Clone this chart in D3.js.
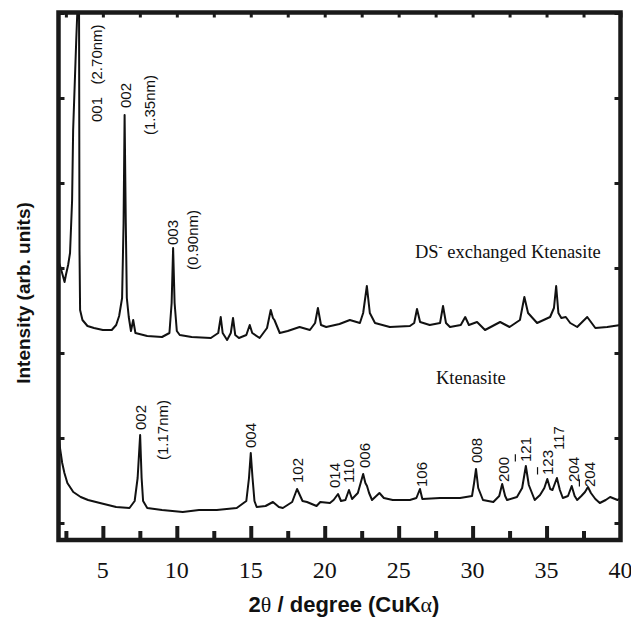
<!DOCTYPE html>
<html lang="en">
<head>
<meta charset="UTF-8">
<title>XRD patterns of Ktenasite</title>
<style>
  body { margin: 0; background: #fff; }
  svg { display: block; }
  .peak { font-family: "Liberation Sans", Arial, sans-serif; font-size: 15px; fill: #111; white-space: pre; }
  .note { font-family: "Liberation Serif", "Times New Roman", serif; font-size: 18.5px; fill: #111; }
  .tick-label { font-family: "Liberation Serif", "Times New Roman", serif; font-size: 24px; fill: #111; }
  .title { font-family: "Liberation Sans", Arial, sans-serif; font-weight: bold; fill: #111; }
</style>
</head>
<body>
<svg id="chart" width="631" height="623"></svg>
<script src="https://d3js.org/d3.v7.min.js"></script>
<script>
// 2theta (deg) and intensity (arbitrary units)
const upperTrace = [
  [2.0,262],[2.15,255],[2.3,247],[2.41,241],[2.5,248],[2.65,258],[2.78,270],[2.92,323],[2.99,393],
  [3.2,483],[3.27,510],[3.33,800],[3.39,510],[3.42,273],[3.46,213],[3.62,203],[3.96,197],[4.4,195],
  [5.0,193],[5.6,193],[5.9,198],[6.1,207],[6.3,225],[6.4,300],[6.47,408],[6.55,300],[6.62,225],
  [6.75,206],[6.9,192],[7.05,203],[7.2,190],[8.0,187],[9.0,186],[9.5,190],[9.65,220],[9.75,275],
  [9.85,220],[10.0,192],[10.2,188],[11.0,186],[12.3,185],[12.8,190],[12.97,206],[13.1,190],[13.4,183],
  [13.65,190],[13.8,205],[13.95,188],[14.2,185],[14.7,188],[14.93,198],[15.1,190],[15.6,185],[16.1,195],
  [16.35,213],[16.5,205],[16.6,203],[16.96,190],[17.5,192],[18.3,196],[19.0,193],[19.35,200],[19.54,215],
  [19.75,198],[20.1,196],[21.0,199],[21.7,203],[22.38,200],[22.6,210],[22.85,237],[23.05,210],[23.4,200],
  [24.4,196],[25.76,197],[26.05,200],[26.24,214],[26.45,201],[27.1,198],[27.8,200],[28.0,217],[28.2,200],
  [28.47,196],[29.2,198],[29.5,206],[29.75,198],[30.3,201],[30.84,193],[31.86,201],[32.5,196],[33.2,203],
  [33.5,226],[33.75,210],[34.36,200],[35.24,206],[35.5,215],[35.65,237],[35.8,210],[36.0,205],[36.3,206],
  [36.6,200],[37.07,196],[37.75,206],[38.3,195],[39.1,196],[40.0,198]
];
const lowerTrace = [
  [2.0,95],[2.1,75],[2.25,60],[2.4,50],[2.6,40],[3.0,31],[3.5,26],[4.0,23],[4.8,20],[5.9,16],[6.8,15],
  [7.15,22],[7.35,45],[7.52,88],[7.62,45],[7.72,22],[8.0,15],[9.0,13],[10.4,11],[11.5,13],[12.7,13],
  [14.05,15],[14.7,22],[14.88,45],[15.0,70],[15.12,45],[15.25,22],[15.4,16],[16.0,17],[16.5,21],[16.9,16],
  [17.17,15],[17.8,21],[18.13,34],[18.5,22],[18.8,21],[19.45,17],[19.7,21],[20.35,20],[20.6,23],[20.9,29],
  [21.1,22],[21.4,23],[21.64,33],[21.85,24],[22.24,30],[22.6,49],[22.75,40],[22.86,37],[23.0,30],[23.2,23],
  [23.7,30],[24.0,25],[24.6,23],[25.76,23],[26.2,25],[26.44,34],[26.6,24],[27.8,25],[29.15,25],[29.96,27],
  [30.1,40],[30.23,54],[30.38,35],[30.7,23],[31.4,21],[31.8,27],[32.0,39],[32.2,27],[32.33,23],[33.0,26],
  [33.35,35],[33.6,57],[33.8,38],[34.2,23],[34.56,28],[34.85,35],[35.05,44],[35.25,34],[35.4,33],[35.7,45],
  [35.9,33],[36.1,25],[36.45,27],[36.7,37],[36.9,27],[37.07,23],[37.35,27],[37.6,31],[37.8,36],[38.0,30],
  [38.3,24],[38.6,20],[39.0,23],[39.3,26],[39.8,23],[40.0,25]
];

// reflection labels: text, 2theta of label centre, intensity where the text starts, index of barred digit
const upperLabels = [
  ["001   (2.70nm)", 4.6, 401, -1],
  ["002", 6.56, 415, -1],
  ["(1.35nm)", 8.19, 388, -1],
  ["003", 9.74, 278, -1],
  ["(0.90nm)", 11.09, 253, -1]
];
const lowerLabels = [
  ["002", 7.56, 93, -1],
  ["(1.17nm)", 9.07, 63, -1],
  ["004", 15.02, 75, -1],
  ["102", 18.2, 40, -1],
  ["014", 20.7, 35, -1],
  ["110", 21.6, 40, -1],
  ["006", 22.7, 55, -1],
  ["106", 26.57, 36, -1],
  ["008", 30.3, 60, -1],
  ["200", 32.1, 41, -1],
  ["121", 33.6, 61, 0],
  ["123", 35.1, 48, 0],
  ["117", 35.84, 73, -1],
  ["204", 36.85, 41, -1],
  ["204", 37.93, 36, 0]
];

const xTickLabels = [5, 10, 15, 20, 25, 30, 35, 40];
const xMinorTicks = [2.5, 7.5, 12.5, 17.5, 22.5, 27.5, 32.5, 37.5];
const yTicks = [0, 85, 170, 255, 340, 425, 510];

const svg = d3.select("#chart");
const pLeft = 58.5, pRight = 620.5, pTop = 12.5, pBottom = 540;

const x = d3.scaleLinear().domain([2, 40]).range([pLeft, pRight]);
const y = d3.scaleLinear().domain([-17, 510]).range([pBottom, 13]);

svg.append("defs").append("clipPath").attr("id", "plot")
  .append("rect").attr("x", pLeft).attr("y", pTop).attr("width", pRight - pLeft).attr("height", pBottom - pTop);

const line = d3.line().x(d => x(d[0])).y(d => y(d[1]));

svg.append("g").attr("clip-path", "url(#plot)")
  .selectAll("path")
  .data([upperTrace, lowerTrace])
  .join("path")
  .attr("d", line)
  .attr("fill", "none")
  .attr("stroke", "#111")
  .attr("stroke-width", 2)
  .attr("stroke-linejoin", "round");

// inward ticks with d3 axes, then the heavy frame
const xMajor = xTickLabels.filter(d => d < 40);
function styleAxis(g, w) {
  g.select(".domain").remove();
  g.selectAll(".tick line").attr("stroke", "#1a1a1a").attr("stroke-width", w);
  g.selectAll(".tick text").remove();
}
svg.append("g").attr("transform", `translate(0,${pBottom})`)
  .call(d3.axisBottom(x).tickValues(xMajor).tickSize(-14).tickSizeOuter(0))
  .call(g => styleAxis(g, 4));
svg.append("g").attr("transform", `translate(0,${pBottom})`)
  .call(d3.axisBottom(x).tickValues(xMinorTicks).tickSize(-9).tickSizeOuter(0))
  .call(g => styleAxis(g, 4));
svg.append("g").attr("transform", `translate(0,${pTop})`)
  .call(d3.axisTop(x).tickValues(xTickLabels.concat(xMinorTicks)).tickSize(-5).tickSizeOuter(0))
  .call(g => styleAxis(g, 3));
svg.append("g").attr("transform", `translate(${pLeft},0)`)
  .call(d3.axisLeft(y).tickValues(yTicks).tickSize(-6).tickSizeOuter(0))
  .call(g => styleAxis(g, 3));
svg.append("g").attr("transform", `translate(${pRight},0)`)
  .call(d3.axisRight(y).tickValues(yTicks).tickSize(-6).tickSizeOuter(0))
  .call(g => styleAxis(g, 3));

svg.append("rect")
  .attr("x", pLeft).attr("y", pTop).attr("width", pRight - pLeft).attr("height", pBottom - pTop)
  .attr("fill", "none").attr("stroke", "#1a1a1a").attr("stroke-width", 4.5);

svg.selectAll("text.tick-label").data(xTickLabels).join("text")
  .attr("class", "tick-label")
  .attr("x", d => x(d)).attr("y", 578)
  .attr("text-anchor", "middle")
  .text(d => d);

// rotated reflection labels
function drawLabels(labels) {
  labels.forEach(([txt, t, v, bar]) => {
    const g = svg.append("g").attr("transform", `translate(${x(t)},${y(v)}) rotate(-90)`);
    const el = g.append("text").attr("class", "peak").attr("y", "0.36em").text(txt);
    if (bar >= 0) {
      const node = el.node();
      const s = node.getStartPositionOfChar(bar).x;
      const e = node.getEndPositionOfChar(bar).x;
      g.append("line").attr("x1", s + 0.5).attr("x2", e - 0.5)
        .attr("y1", -10.5).attr("y2", -10.5)
        .attr("stroke", "#111").attr("stroke-width", 1.2);
    }
  });
}
drawLabels(upperLabels);
drawLabels(lowerLabels);

// sample names
const ds = svg.append("text").attr("class", "note").attr("x", x(26.1)).attr("y", y(265));
ds.append("tspan").text("DS");
ds.append("tspan").attr("font-size", 12).attr("dy", -7).text("-");
ds.append("tspan").attr("dy", 7).text(" exchanged Ktenasite");

svg.append("text").attr("class", "note").attr("x", x(27.52)).attr("y", y(139)).text("Ktenasite");

// axis titles
const xt = svg.append("text").attr("class", "title").attr("font-size", 22)
  .attr("x", 344).attr("y", 612).attr("text-anchor", "middle");
xt.append("tspan").text("2");
xt.append("tspan").attr("font-family", "'Liberation Serif', serif").attr("font-weight", "normal").text("θ");
xt.append("tspan").text(" / degree (CuK");
xt.append("tspan").attr("font-family", "'Liberation Serif', serif").attr("font-weight", "normal").text("α");
xt.append("tspan").text(")");

svg.append("text").attr("class", "title").attr("font-size", 19)
  .attr("transform", "translate(30,293) rotate(-90)")
  .attr("text-anchor", "middle")
  .text("Intensity (arb. units)");
</script>
</body>
</html>
